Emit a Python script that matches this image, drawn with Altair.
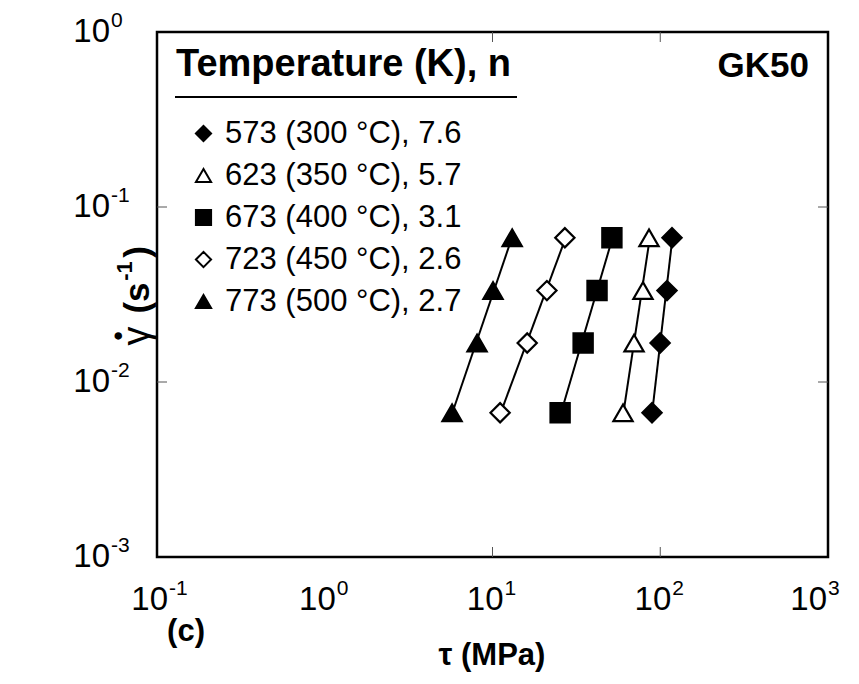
import altair as alt
import pandas as pd
import numpy as np

FONT = "Liberation Sans"

# ---- data ----
series = ["573 (300 °C), 7.6", "623 (350 °C), 5.7", "673 (400 °C), 3.1",
          "723 (450 °C), 2.6", "773 (500 °C), 2.7"]
shapes = ["diamond", "triangle-up", "square", "diamond", "triangle-up"]
fills = ["black", "white", "black", "white", "black"]
strain_rate = [6.67e-2, 3.33e-2, 1.67e-2, 6.67e-3]
tau_573 = [117.5, 109.7, 99.8, 89.3]
tau_623 = [85.7, 78.9, 69.8, 60.0]
tau_673 = [51.5, 42.0, 34.7, 25.3]
tau_723 = [27.0, 21.1, 16.1, 11.1]
tau_773 = [13.1, 10.07, 8.09, 5.74]

x_ticks = [0.1, 1, 10, 100, 1000]
x_exps = ["-1", "0", "1", "2", "3"]
y_ticks = [1, 0.1, 0.01, 0.001]
y_exps = ["0", "-1", "-2", "-3"]
x_inner_ticks = [10, 100]
y_inner_ticks = [0.1, 0.01]

W, H = 671, 525

taus = [tau_573, tau_623, tau_673, tau_723, tau_773]
rows = []
for s, tl in zip(series, taus):
    for t, g in zip(tl, strain_rate):
        rows.append({"series": s, "tau": t, "gamma": g})
pts = pd.DataFrame(rows)

# power-law fit lines (log-log regression), drawn over the measured range
fit_rows = []
for s, tl in zip(series, taus):
    lg = np.log10(strain_rate)
    lt = np.log10(tl)
    a, b = np.polyfit(lg, lt, 1)
    for g in [min(strain_rate), max(strain_rate)]:
        fit_rows.append({"series": s, "tau": 10 ** (a * np.log10(g) + b), "gamma": g})
fits = pd.DataFrame(fit_rows)

xs = alt.Scale(type="log", domain=[0.1, 1000], nice=False)
ys = alt.Scale(type="log", domain=[0.001, 1], nice=False)

lines = alt.Chart(fits).mark_line(color="black", strokeWidth=2).encode(
    x=alt.X("tau:Q", scale=xs, axis=None),
    y=alt.Y("gamma:Q", scale=ys, axis=None),
    detail="series:N",
)

legend = alt.Legend(
    orient="none", legendX=31, legendY=86, title="", titlePadding=0, titleFontSize=1,
    padding=0, labelFont=FONT, labelFontSize=31, labelColor="black", labelLimit=0,
    symbolSize=230, symbolStrokeWidth=2, rowPadding=10, labelOffset=6,
)

points = alt.Chart(pts).mark_point(filled=False, opacity=1, size=370, strokeWidth=2.2).encode(
    x=alt.X("tau:Q", scale=xs, axis=None),
    y=alt.Y("gamma:Q", scale=ys, axis=None),
    shape=alt.Shape("series:N", scale=alt.Scale(domain=series, range=shapes), legend=legend),
    fill=alt.Fill("series:N", scale=alt.Scale(domain=series, range=fills), legend=legend),
    stroke=alt.Stroke("series:N", scale=alt.Scale(domain=series, range=["black"] * 5), legend=legend),
)

one = pd.DataFrame({"k": [0]})


def label(text, x, y, size, weight="normal", align="center", angle=0):
    return alt.Chart(one).mark_text(
        text=text, font=FONT, fontSize=size, fontWeight=weight, align=align,
        baseline="middle", angle=angle, color="black",
    ).encode(x=alt.value(x), y=alt.value(y))


title_txt = label("Temperature (K), n", 19, 33, 38, "bold", "left")
underline = alt.Chart(one).mark_rule(color="black", strokeWidth=2).encode(
    x=alt.value(18), x2=alt.value(360), y=alt.value(65))
gk = label("GK50", 652, 34, 35, "bold", "right")
c_lab = label("(c)", 29, 600, 31, "bold")
x_title = label("\u03c4 (MPa)", 335, 624, 31, "bold")

# y-axis title built from pieces (rotated)
yt_gamma = label("\u03b3", -19, 304, 38, "normal", "center", 270)
yt_dot = label("\u2022", -38, 304, 26, "bold", "center", 270)
yt_s = label("(s", -19, 266, 35, "bold", "center", 270)
yt_sup = label("-1", -32, 239, 22, "bold", "center", 270)
yt_close = label(")", -19, 220, 35, "bold", "center", 270)

xt = pd.DataFrame({"v": x_ticks[:-1], "b": ["10"] * (len(x_ticks) - 1), "e": x_exps[:-1]})
xt_last = pd.DataFrame({"v": x_ticks[-1:], "b": ["10"], "e": x_exps[-1:]})
yt = pd.DataFrame({"v": y_ticks, "b": ["10"] * len(y_ticks), "e": y_exps})


def xlabels(df, shift):
    base = alt.Chart(df).mark_text(font=FONT, fontSize=33, align="right", baseline="middle",
                                   dx=11 + shift, color="black").encode(
        x=alt.X("v:Q", scale=xs, axis=None), y=alt.value(568), text="b:N")
    exp = alt.Chart(df).mark_text(font=FONT, fontSize=21, align="left", baseline="middle",
                                  dx=12 + shift, color="black").encode(
        x=alt.X("v:Q", scale=xs, axis=None), y=alt.value(557), text="e:N")
    return [base, exp]


y_base = alt.Chart(yt).mark_text(font=FONT, fontSize=33, align="right", baseline="middle",
                                 color="black").encode(
    x=alt.value(-47), y=alt.Y("v:Q", scale=ys, axis=None), text="b:N")
y_exp = alt.Chart(yt).mark_text(font=FONT, fontSize=21, align="left", baseline="middle",
                                dy=-11, color="black").encode(
    x=alt.value(-46), y=alt.Y("v:Q", scale=ys, axis=None), text="e:N")

xi = pd.DataFrame({"v": x_inner_ticks})
yi = pd.DataFrame({"v": y_inner_ticks})
tick_style = dict(color="#555555", strokeWidth=1)
xt_bot = alt.Chart(xi).mark_rule(**tick_style).encode(
    x=alt.X("v:Q", scale=xs, axis=None), y=alt.value(H), y2=alt.value(H - 10))
xt_top = alt.Chart(xi).mark_rule(**tick_style).encode(
    x=alt.X("v:Q", scale=xs, axis=None), y=alt.value(0), y2=alt.value(10))
yt_left = alt.Chart(yi).mark_rule(**tick_style).encode(
    y=alt.Y("v:Q", scale=ys, axis=None), x=alt.value(0), x2=alt.value(10))
yt_right = alt.Chart(yi).mark_rule(**tick_style).encode(
    y=alt.Y("v:Q", scale=ys, axis=None), x=alt.value(W), x2=alt.value(W - 10))

chart = alt.layer(
    xt_bot, xt_top, yt_left, yt_right, lines, points,
    title_txt, underline, gk, c_lab, x_title,
    yt_gamma, yt_dot, yt_s, yt_sup, yt_close,
    *xlabels(xt, 0), *xlabels(xt_last, -12), y_base, y_exp,
).properties(
    width=W, height=H,
    autosize=alt.AutoSizeParams(type="none"),
    padding={"left": 149, "top": 24, "right": 23, "bottom": 120},
    background="white",
).configure_view(stroke="black", strokeWidth=2.5)

chart.save("out.html", embed_options={"renderer": "svg", "actions": False})
